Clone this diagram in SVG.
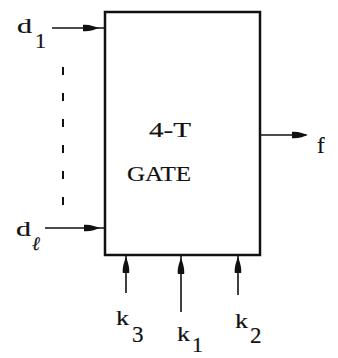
<svg xmlns="http://www.w3.org/2000/svg" width="338" height="358" viewBox="0 0 338 358">
<style>
.t{font-family:"Liberation Serif","DejaVu Serif",serif;fill:#111;stroke:#111;stroke-width:0.2}
.w{stroke:#111;stroke-width:1.6;fill:none}
.ah{fill:#111}
</style>
<defs>
<path id="ah" class="ah" d="M0,0 C-4,-1.5 -10,-3.8 -16,-3.2 L-16,3.2 C-10,3.8 -4,1.5 0,0 Z"/>
</defs>
<rect width="338" height="358" fill="#fff"/>
<g id="gate">
<rect x="105" y="12" width="155" height="243" fill="none" stroke="#111" stroke-width="2.5"/>
<text class="t" x="149" y="137" font-size="22" textLength="42" lengthAdjust="spacingAndGlyphs">4-T</text>
<text class="t" x="127" y="181" font-size="22" textLength="64" lengthAdjust="spacingAndGlyphs">GATE</text>
</g>
<g id="connectors">
<line class="w" x1="52" y1="28" x2="105" y2="28"/>
<use href="#ah" transform="translate(99,28)"/>
<line class="w" x1="45" y1="228" x2="105" y2="228"/>
<use href="#ah" transform="translate(100,228)"/>
<line class="w" x1="261" y1="135" x2="306" y2="135"/>
<use href="#ah" transform="translate(308,135)"/>
<line class="w" x1="126" y1="293" x2="126" y2="256"/>
<use href="#ah" transform="translate(126,257) rotate(-90)"/>
<line class="w" x1="181" y1="312" x2="181" y2="256"/>
<use href="#ah" transform="translate(181,258) rotate(-90)"/>
<line class="w" x1="238" y1="295" x2="238" y2="256"/>
<use href="#ah" transform="translate(238,257) rotate(-90)"/>
<line x1="63" y1="67" x2="63" y2="205" stroke="#111" stroke-width="2" stroke-dasharray="8 18"/>
</g>
<g id="d1">
<text class="t" x="17" y="33" font-size="22" textLength="15" lengthAdjust="spacingAndGlyphs">d</text>
<text class="t" x="35" y="48" font-size="22">1</text>
</g>
<g id="dl">
<text class="t" x="16" y="236" font-size="22" textLength="15" lengthAdjust="spacingAndGlyphs">d</text>
<text class="t" x="32" y="250" font-size="19" font-style="italic">ℓ</text>
</g>
<g id="f">
<text class="t" x="317" y="153" font-size="23">f</text>
</g>
<g id="k3">
<text class="t" x="116" y="325" font-size="21" textLength="13" lengthAdjust="spacingAndGlyphs">k</text>
<text class="t" x="132" y="342" font-size="23">3</text>
</g>
<g id="k1">
<text class="t" x="177" y="341" font-size="22" textLength="13" lengthAdjust="spacingAndGlyphs">k</text>
<text class="t" x="192" y="352" font-size="22">1</text>
</g>
<g id="k2">
<text class="t" x="235" y="328" font-size="21" textLength="13" lengthAdjust="spacingAndGlyphs">k</text>
<text class="t" x="250" y="343" font-size="23">2</text>
</g>
</svg>
